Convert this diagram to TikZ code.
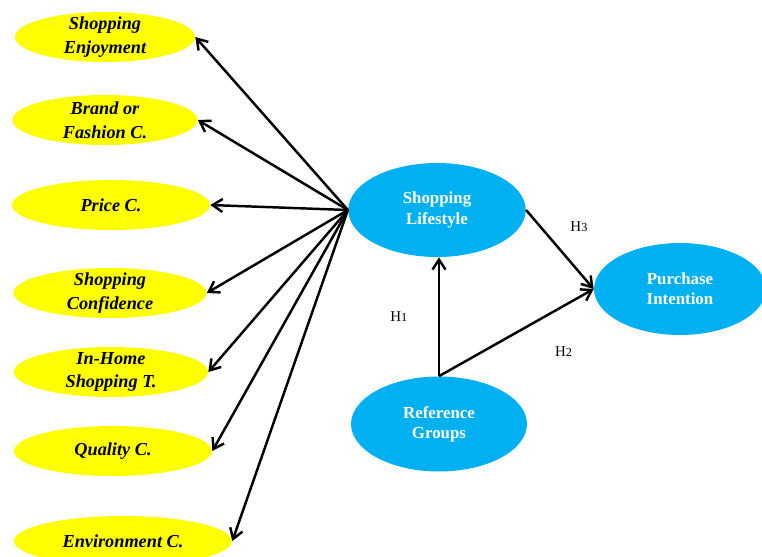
\documentclass[tikz,border=0pt]{standalone}
\usepackage{fontspec}
\setmainfont{Liberation Serif}
\usetikzlibrary{positioning, shapes.geometric, arrows.meta}
\definecolor{dimyellow}{HTML}{FFFF00}
\definecolor{cnstblue}{HTML}{00B0F0}

\begin{document}
\begin{tikzpicture}[x=0.02cm, y=-0.02cm,
    dim/.style={ellipse, fill=dimyellow, text=black, font=\fontsize{10.4}{13.5}\selectfont\bfseries\itshape, minimum width=3.6cm, minimum height=1cm, inner xsep=0pt, inner ysep=-2pt, align=center},
    cnst/.style={ellipse, fill=cnstblue, text=white, font=\fontsize{9.6}{11.5}\selectfont\bfseries, minimum width=3.55cm, minimum height=1.88cm, inner sep=0pt, align=center},
    arr/.style={-{Straight Barb[length=2mm, width=2.6mm]}, line width=1.4pt},
    hyp/.style={font=\fontsize{8.5}{10}\selectfont}]
  \useasboundingbox (0,0) rectangle (762,556);
  % dimensions of the shopping lifestyle
  \node[dim] (enj) at (105,37) {Shopping\\Enjoyment};
  \node[dim, minimum width=3.7cm] (brand) at (105,120) {Brand or\\Fashion C.};
  \node[dim, minimum width=3.96cm] (price) at (111,205) {Price C.};
  \node[dim, minimum width=3.86cm] (conf) at (110,293) {Shopping\\Confidence};
  \node[dim, minimum width=3.88cm] (home) at (111,372) {In-Home\\Shopping T.};
  \node[dim, minimum width=3.96cm] (qual) at (113,451) {Quality C.};
  \node[dim, minimum width=4.36cm] (env) at (123,541) {Environment C.};
  % constructs
  \node[cnst] (life) at (437,210) {Shopping\\Lifestyle};
  \node[cnst, minimum width=3.44cm, minimum height=1.84cm] (purch) at (680,289) {Purchase\\Intention};
  \node[cnst, minimum width=3.52cm, minimum height=1.9cm] (ref) at (439,424) {Reference\\Groups};
  \foreach \d in {enj, brand, price, conf, home, qual, env}
    \draw[arr] (life.west) -- (\d.east);
  \draw[arr] (ref.north) -- node[hyp, left=14pt] {H{\scriptsize 1}} (ref.north |- life.south);
  \draw[arr] (ref.north) -- node[hyp, below right=4pt and 18pt] {H{\scriptsize 2}} (purch.west);
  \draw[arr] (life.east) -- node[hyp, above right=6pt and 2pt] {H{\scriptsize 3}} (purch.west);
\end{tikzpicture}
\end{document}
